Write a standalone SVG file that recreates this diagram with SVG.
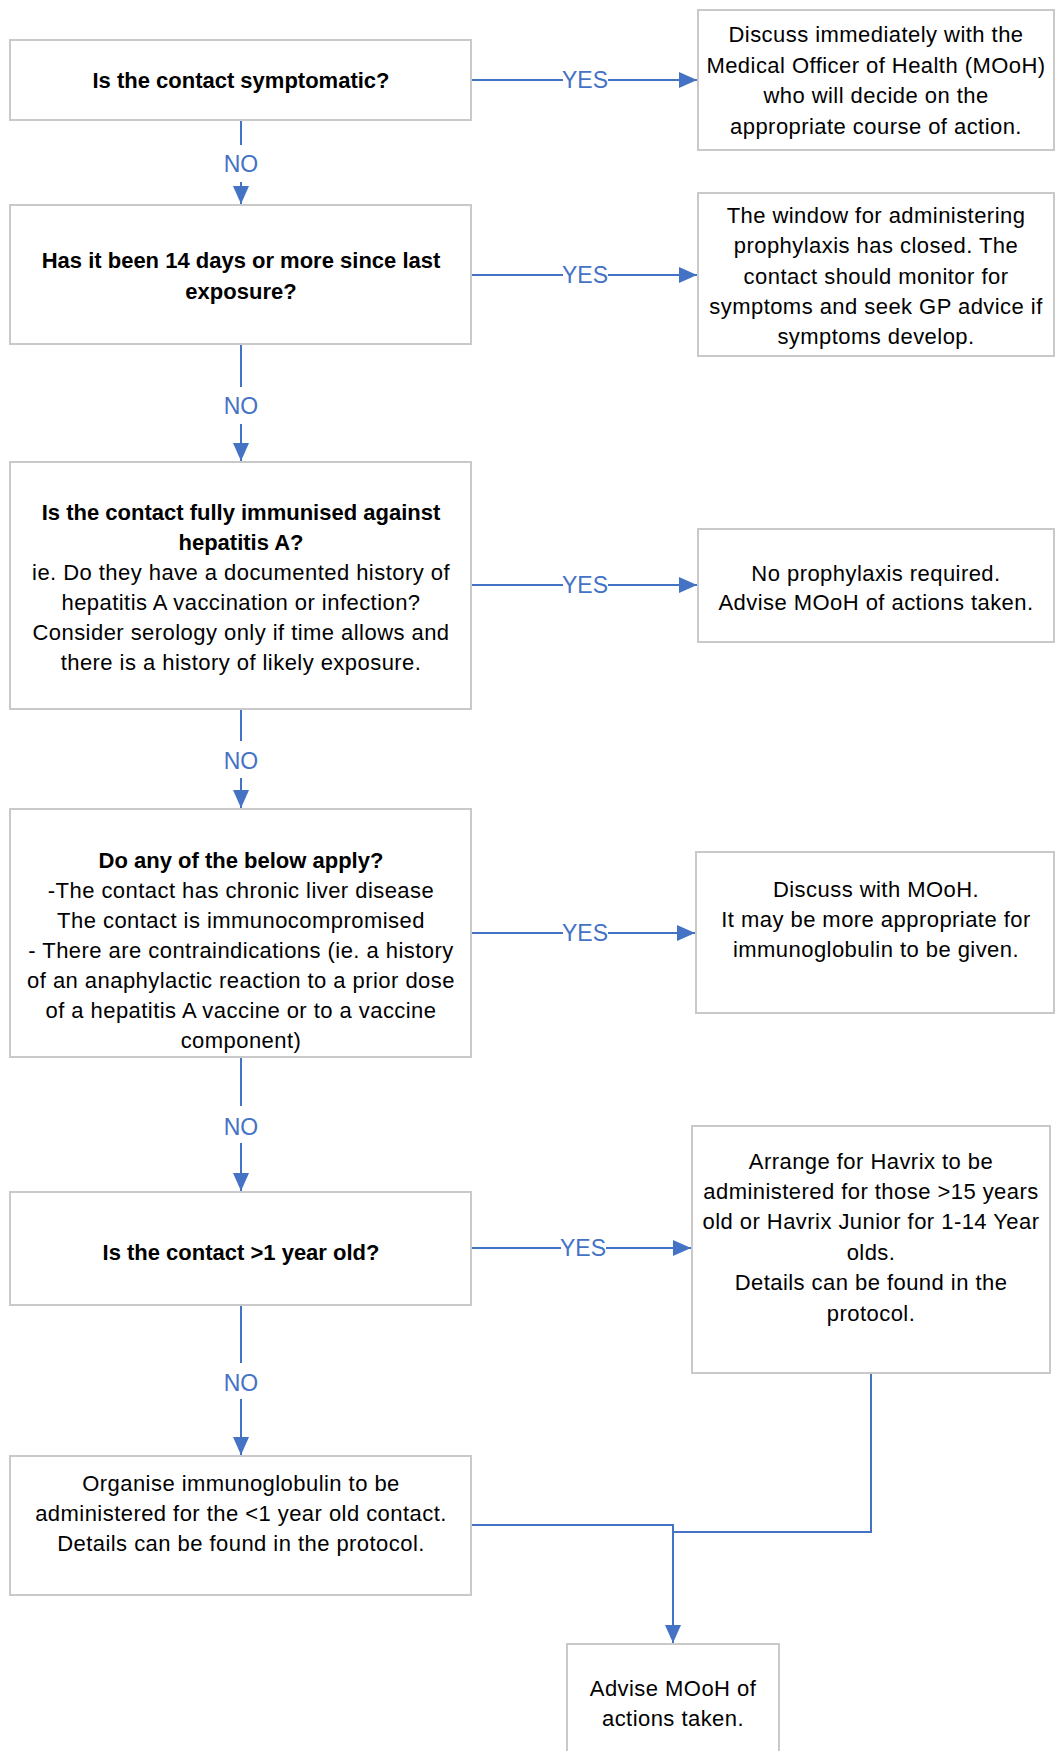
<svg xmlns="http://www.w3.org/2000/svg" width="1055" height="1751" viewBox="0 0 1055 1751">
<defs>
<marker id="ah" viewBox="0 0 18 16" refX="18" refY="8" markerWidth="18" markerHeight="16" markerUnits="userSpaceOnUse" orient="auto">
<path d="M0,0 L18,8 L0,16 Z" fill="#4472C4"/>
</marker>
<style>
.box{fill:#fff;stroke:#C9C9C9;stroke-width:2}
.t{font-family:"Liberation Sans",Arial,sans-serif;font-size:22px;fill:#000;text-anchor:middle;letter-spacing:0.45px}
.b{font-weight:bold;letter-spacing:0}
.c{fill:none;stroke:#4472C4;stroke-width:2}
.lb{font-family:"Liberation Sans",Arial,sans-serif;font-size:23px;fill:#4472C4;text-anchor:middle}
.bg{fill:#fff}
</style>
</defs>
<rect width="1055" height="1751" fill="#fff"/>
<g id="connectors">
<path class="c" d="M471,80 H697" marker-end="url(#ah)"/>
<path class="c" d="M471,275 H697" marker-end="url(#ah)"/>
<path class="c" d="M471,585 H697" marker-end="url(#ah)"/>
<path class="c" d="M471,933 H695" marker-end="url(#ah)"/>
<path class="c" d="M471,1248 H691" marker-end="url(#ah)"/>
<path class="c" d="M241,120 V204" marker-end="url(#ah)"/>
<path class="c" d="M241,344 V461" marker-end="url(#ah)"/>
<path class="c" d="M241,709 V808" marker-end="url(#ah)"/>
<path class="c" d="M241,1057 V1191" marker-end="url(#ah)"/>
<path class="c" d="M241,1305 V1455" marker-end="url(#ah)"/>
<path class="c" d="M471,1525 H673 V1643" marker-end="url(#ah)"/>
<path class="c" d="M871,1373 V1532 H673"/>
<rect class="bg" x="563" y="68" width="45" height="24"/>
<text class="lb" x="585" y="88">YES</text>
<rect class="bg" x="563" y="263" width="45" height="24"/>
<text class="lb" x="585" y="283">YES</text>
<rect class="bg" x="563" y="573" width="45" height="24"/>
<text class="lb" x="585" y="593">YES</text>
<rect class="bg" x="563" y="921" width="45" height="24"/>
<text class="lb" x="585" y="941">YES</text>
<rect class="bg" x="561" y="1236" width="45" height="24"/>
<text class="lb" x="583" y="1256">YES</text>
<rect class="bg" x="221" y="145" width="40" height="37"/>
<text class="lb" x="241" y="172">NO</text>
<rect class="bg" x="221" y="387" width="40" height="37"/>
<text class="lb" x="241" y="414">NO</text>
<rect class="bg" x="221" y="741" width="40" height="37"/>
<text class="lb" x="241" y="769">NO</text>
<rect class="bg" x="221" y="1106" width="40" height="37"/>
<text class="lb" x="241" y="1135">NO</text>
<rect class="bg" x="221" y="1363" width="40" height="36"/>
<text class="lb" x="241" y="1391">NO</text>
</g>
<g id="q1">
<rect class="box" x="10" y="40" width="461" height="80"/>
<text class="t b" x="241" y="88">Is the contact symptomatic?</text>
</g>
<g id="r1">
<rect class="box" x="698" y="10" width="356" height="140"/>
<text class="t" x="876" y="42">Discuss immediately with the</text>
<text class="t" x="876" y="73">Medical Officer of Health (MOoH)</text>
<text class="t" x="876" y="103">who will decide on the</text>
<text class="t" x="876" y="134">appropriate course of action.</text>
</g>
<g id="q2">
<rect class="box" x="10" y="205" width="461" height="139"/>
<text class="t b" x="241" y="268">Has it been 14 days or more since last</text>
<text class="t b" x="241" y="299">exposure?</text>
</g>
<g id="r2">
<rect class="box" x="698" y="193" width="356" height="163"/>
<text class="t" x="876" y="223">The window for administering</text>
<text class="t" x="876" y="253">prophylaxis has closed. The</text>
<text class="t" x="876" y="284">contact should monitor for</text>
<text class="t" x="876" y="314">symptoms and seek GP advice if</text>
<text class="t" x="876" y="344">symptoms develop.</text>
</g>
<g id="q3">
<rect class="box" x="10" y="462" width="461" height="247"/>
<text class="t b" x="241" y="520">Is the contact fully immunised against</text>
<text class="t b" x="241" y="550">hepatitis A?</text>
<text class="t" x="241" y="580">ie. Do they have a documented history of</text>
<text class="t" x="241" y="610">hepatitis A vaccination or infection?</text>
<text class="t" x="241" y="640">Consider serology only if time allows and</text>
<text class="t" x="241" y="670">there is a history of likely exposure.</text>
</g>
<g id="r3">
<rect class="box" x="698" y="529" width="356" height="113"/>
<text class="t" x="876" y="581">No prophylaxis required.</text>
<text class="t" x="876" y="610">Advise MOoH of actions taken.</text>
</g>
<g id="q4">
<rect class="box" x="10" y="809" width="461" height="248"/>
<text class="t b" x="241" y="868">Do any of the below apply?</text>
<text class="t" x="241" y="898">-The contact has chronic liver disease</text>
<text class="t" x="241" y="928">The contact is immunocompromised</text>
<text class="t" x="241" y="958">- There are contraindications (ie. a history</text>
<text class="t" x="241" y="988">of an anaphylactic reaction to a prior dose</text>
<text class="t" x="241" y="1018">of a hepatitis A vaccine or to a vaccine</text>
<text class="t" x="241" y="1048">component)</text>
</g>
<g id="r4">
<rect class="box" x="696" y="852" width="358" height="161"/>
<text class="t" x="876" y="897">Discuss with MOoH.</text>
<text class="t" x="876" y="927">It may be more appropriate for</text>
<text class="t" x="876" y="957">immunoglobulin to be given.</text>
</g>
<g id="q5">
<rect class="box" x="10" y="1192" width="461" height="113"/>
<text class="t b" x="241" y="1260">Is the contact &gt;1 year old?</text>
</g>
<g id="r5">
<rect class="box" x="692" y="1126" width="358" height="247"/>
<text class="t" x="871" y="1169">Arrange for Havrix to be</text>
<text class="t" x="871" y="1199">administered for those &gt;15 years</text>
<text class="t" x="871" y="1229">old or Havrix Junior for 1-14 Year</text>
<text class="t" x="871" y="1260">olds.</text>
<text class="t" x="871" y="1290">Details can be found in the</text>
<text class="t" x="871" y="1321">protocol.</text>
</g>
<g id="a6">
<rect class="box" x="10" y="1456" width="461" height="139"/>
<text class="t" x="241" y="1491">Organise immunoglobulin to be</text>
<text class="t" x="241" y="1521">administered for the &lt;1 year old contact.</text>
<text class="t" x="241" y="1551">Details can be found in the protocol.</text>
</g>
<g id="a7">
<rect class="box" x="567" y="1644" width="212" height="120"/>
<text class="t" x="673" y="1696">Advise MOoH of</text>
<text class="t" x="673" y="1726">actions taken.</text>
</g>
</svg>
